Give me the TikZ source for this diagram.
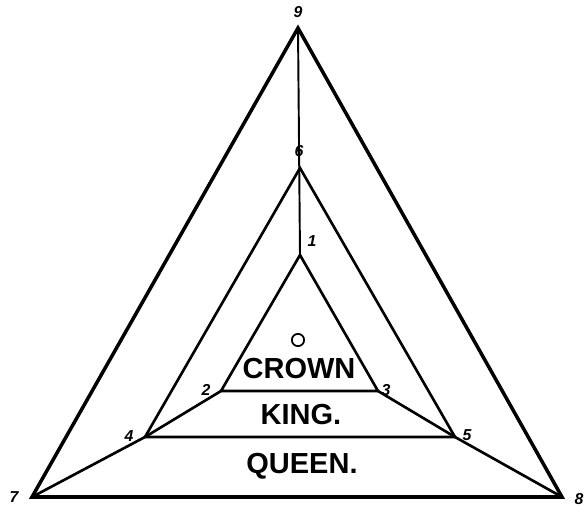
\documentclass[tikz,border=0pt]{standalone}
\usepackage{fontspec}
\setmainfont{Liberation Sans}
\usepackage{tikz}

\begin{document}
\begin{tikzpicture}[
    x=0.02cm, y=-0.02cm,
    num/.style={font=\small\bfseries\itshape, inner sep=1pt},
    rank/.style={font=\fontsize{16.5}{18}\selectfont\bfseries, inner sep=0pt},
    outer/.style={line width=2pt, line join=miter},
    inner/.style={line width=1.5pt, line join=miter}
]
    \useasboundingbox (0,0) rectangle (586,518);
    % corner points
    \coordinate (p1) at (300,255);
    \coordinate (p2) at (221,391);
    \coordinate (p3) at (378,391);
    \coordinate (p4) at (145,437);
    \coordinate (p5) at (455,437);
    \coordinate (p6) at (300,168);
    \coordinate (p7) at (32,497);
    \coordinate (p8) at (562,497);
    \coordinate (p9) at (298,28);
    % numbers
    \node[num] (n1) at (312,241) {1};
    \node[num] (n2) at (206,390) {2};
    \node[num] (n3) at (386,390) {3};
    \node[num] (n4) at (129,436) {4};
    \node[num] (n5) at (467,435) {5};
    \node[num] (n6) at (299,151) {6};
    \node[num] (n7) at (14,497) {7};
    \node[num] (n8) at (579,499) {8};
    \node[num] (n9) at (298,12) {9};
    \node[draw, circle, line width=1pt, minimum size=7pt, inner sep=0pt] (n0) at (298,340) {};
    % triangles
    \draw[outer] (p9) -- (p7) -- (p8) -- cycle;
    \draw[inner] (p6) -- (p4) -- (p5) -- cycle;
    \draw[inner] (p1) -- (p2) -- (p3) -- cycle;
    \draw[inner] (p2) -- (p4) -- (p7);
    \draw[inner] (p3) -- (p5) -- (p8);
    \draw[line width=1.1pt] (p9) -- (p1);
    % labels
    \node[rank] (crown) at (299,369) {CROWN};
    \node[rank] (king) at (301,415) {KING.};
    \node[rank] (queen) at (302,466) {QUEEN.};
\end{tikzpicture}
\end{document}
